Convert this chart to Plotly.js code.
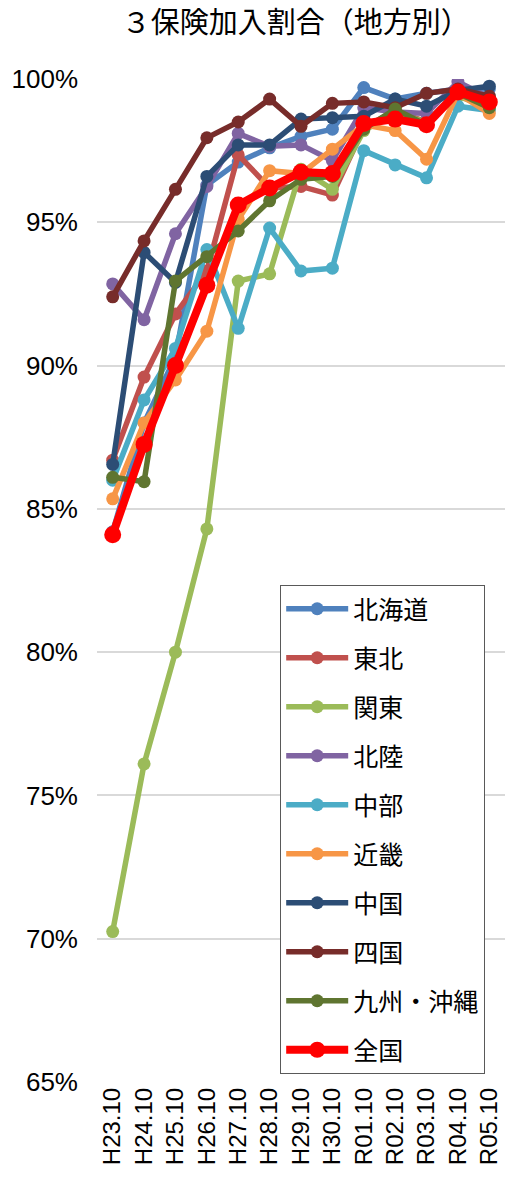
<!DOCTYPE html>
<html>
<head>
<meta charset="utf-8">
<script src="https://cdn.plot.ly/plotly-3.0.1.min.js"></script>
<style>html,body{margin:0;padding:0;background:#fff;}#chart{width:517px;height:1192px;}</style>
</head>
<body>
<div id="chart"></div>
<script>
const categories = ["H23.10","H24.10","H25.10","H26.10","H27.10","H28.10","H29.10","H30.10","R01.10","R02.10","R03.10","R04.10","R05.10"];
const hokkaido = [84.2, 88.0, 90.3, 96.3, 97.1, 97.6, 98.0, 98.25, 99.7, 99.3, 99.5, 99.65, 99.65];
const tohoku   = [86.7, 89.6, 91.8, 93.3, 97.35, 96.2, 96.25, 95.95, 98.3, 98.9, 98.5, 99.6, 99.3];
const kanto    = [70.25, 76.1, 80.0, 84.3, 92.95, 93.2, 96.85, 96.15, 98.2, 98.8, 98.5, 99.4, 99.0];
const hokuriku = [92.85, 91.6, 94.6, 96.25, 98.1, 97.65, 97.7, 97.15, 99.0, 98.85, 98.8, 99.9, 99.35];
const chubu    = [86.0, 88.8, 90.6, 94.05, 91.3, 94.8, 93.3, 93.4, 97.5, 97.0, 96.55, 99.05, 98.9];
const kinki    = [85.35, 88.0, 89.5, 91.2, 95.1, 96.8, 96.7, 97.55, 98.4, 98.2, 97.2, 99.5, 98.8];
const chugoku  = [86.55, 93.95, 92.9, 96.6, 97.7, 97.7, 98.6, 98.65, 98.7, 99.3, 99.05, 99.6, 99.75];
const shikoku  = [92.4, 94.35, 96.15, 97.95, 98.5, 99.3, 98.35, 99.15, 99.2, 99.0, 99.5, 99.65, 99.4];
const kyushu   = [86.1, 85.95, 92.95, 93.8, 94.7, 95.75, 96.5, 96.6, 98.25, 98.95, 98.4, 99.5, 99.0];
const zenkoku  = [84.1, 87.25, 90.0, 92.8, 95.6, 96.2, 96.75, 96.7, 98.45, 98.6, 98.4, 99.55, 99.2];

const seriesNames = ["北海道","東北","関東","北陸","中部","近畿","中国","四国","九州・沖縄","全国"];
const seriesValues = [hokkaido, tohoku, kanto, hokuriku, chubu, kinki, chugoku, shikoku, kyushu, zenkoku];
const seriesColors = ["#4F81BD","#C0504D","#9BBB59","#8064A2","#4BACC6","#F79646","#2C4D75","#772C2A","#5F7530","#FF0000"];

const FONT = "Liberation Sans, Arial, 'Noto Sans CJK JP', sans-serif";
const JFONT = "'Noto Sans CJK JP', 'Liberation Sans', sans-serif";

const traces = seriesNames.map((name, i) => {
  const isAll = name === "全国";
  return {
    type: "scatter",
    mode: "lines+markers",
    name: name,
    legendgroup: "g" + i,
    x: categories,
    y: seriesValues[i],
    line: {color: seriesColors[i], width: isAll ? 8 : 5.5},
    marker: {color: seriesColors[i], size: isAll ? 17 : 13},
    hoverinfo: "skip"
  };
});

const layout = {
  width: 517,
  height: 1192,
  margin: {l: 97, r: 12, t: 79, b: 110},
  paper_bgcolor: "#ffffff",
  plot_bgcolor: "#ffffff",
  showlegend: true,
  title: {
    text: "３保険加入割合（地方別）",
    font: {family: JFONT, size: 29, color: "#000000"},
    x: 0.572, xanchor: "center", xref: "container",
    y: 0.9805, yanchor: "middle", yref: "container"
  },
  xaxis: {
    type: "category",
    range: [-0.5, categories.length - 0.5],
    tickmode: "linear",
    dtick: 1,
    tickangle: -90,
    tickfont: {family: FONT, size: 24, color: "#000000"},
    showgrid: false,
    showline: false,
    ticks: "",
    zeroline: false,
    automargin: false
  },
  yaxis: {
    range: [65, 100],
    dtick: 5,
    tick0: 65,
    ticksuffix: "%",
    tickfont: {family: FONT, size: 26, color: "#000000"},
    showgrid: true,
    gridcolor: "#D9D9D9",
    gridwidth: 2,
    zeroline: false,
    showline: false,
    ticks: "",
    automargin: false,
    ticklabelstandoff: 18
  },
  legend: {
    x: 0.449, xanchor: "left",
    y: 0.4955, yanchor: "top",
    bgcolor: "#ffffff",
    bordercolor: "#595959",
    borderwidth: 1,
    font: {family: JFONT, size: 25, color: "#000000"},
    tracegroupgap: 13.5,
    itemsizing: "trace",
    itemwidth: 62
  }
};

Plotly.newPlot("chart", traces, layout, {staticPlot: true, displayModeBar: false});
</script>
</body>
</html>
